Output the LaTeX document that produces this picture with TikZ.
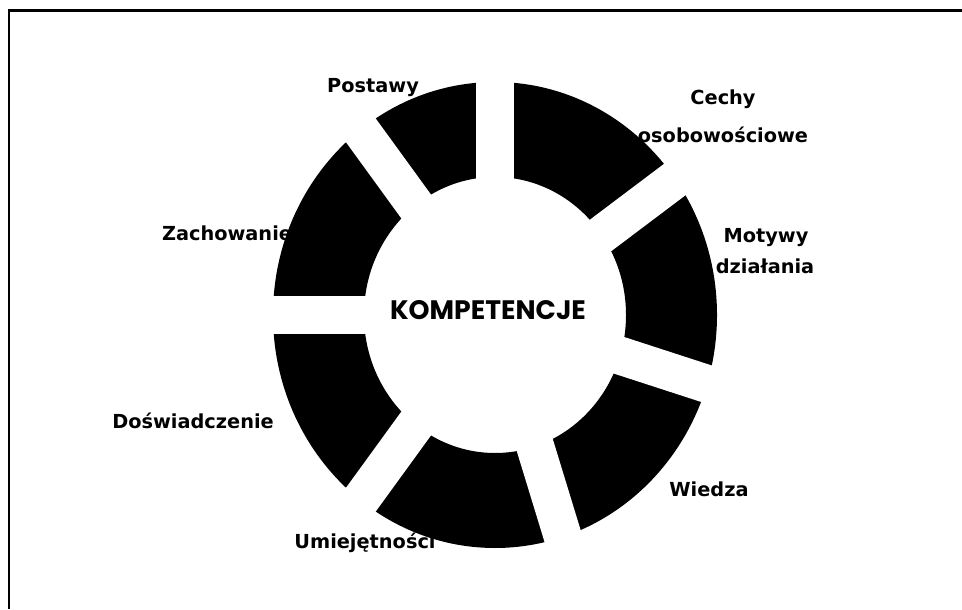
\documentclass[tikz,border=0pt]{standalone}
\usepackage{fontspec}
\setmainfont{DejaVu Sans}
\newfontfamily\titlefont{Poppins}
\tikzset{
    lbl/.style={font=\bfseries\fontsize{11}{13}\selectfont, inner sep=0pt, anchor=base},
    gapline/.style={white, line width=0.76cm}
}
\begin{document}
\begin{tikzpicture}[x=0.02cm, y=0.02cm]
    \useasboundingbox (0,0) rectangle (962,609);
    \draw [line width=0.06cm] (9,0) -- (9,598) -- (962,598);
    % ring
    \coordinate (c) at (495,294);
    \fill [black, even odd rule] (c) ellipse [x radius=222, y radius=233]
        (c) ellipse [x radius=131, y radius=138];
    \foreach \a in {90,37,-18,-73,-126,180,126}
        \draw [gapline] (c) -- ++(\a:255);
    % labels
    \node [lbl] (postawy) at (373,516) {Postawy};
    \node [lbl] (cechy) at (723,504) {Cechy};
    \node [lbl] (osob) at (723,466) {osobowościowe};
    \node [lbl] (motywy) at (766,366) {Motywy};
    \node [lbl] (dzialania) at (765,336) {działania};
    \node [lbl] (zachowanie) at (227,368) {Zachowanie};
    \node [lbl] (doswiadczenie) at (193,181) {Doświadczenie};
    \node [lbl] (wiedza) at (709,113) {Wiedza};
    \node [lbl] (umiejetnosci) at (365,61) {Umiejętności};
    \node [font=\titlefont\bfseries\fontsize{15.2}{18}\selectfont, inner sep=0pt, anchor=base] (komp) at (488,290) {KOMPETENCJE};
\end{tikzpicture}
\end{document}
